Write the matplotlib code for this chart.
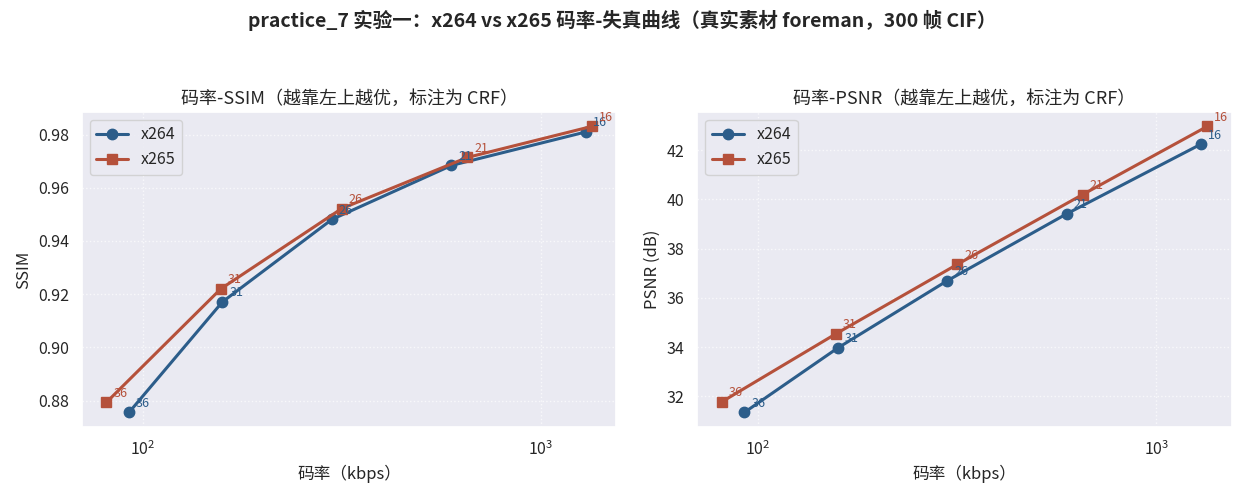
import numpy as np
import matplotlib
matplotlib.use("Agg")
import matplotlib.pyplot as plt
import seaborn as sns

sns.set_theme(style="darkgrid")
plt.rcParams['font.family'] = ['Noto Sans CJK SC', 'DejaVu Sans']
plt.rcParams['axes.unicode_minus'] = False

crf = [36, 31, 26, 21, 16]

x264_kbps = [92.3, 158.5, 298.5, 596.0, 1296.0]
x264_ssim = [0.8755, 0.9171, 0.9481, 0.9684, 0.9810]
x264_psnr = [31.35, 33.97, 36.70, 39.42, 42.25]

x265_kbps = [81.0, 157.0, 316.0, 653.0, 1343.0]
x265_ssim = [0.8793, 0.9220, 0.9522, 0.9714, 0.9831]
x265_psnr = [31.78, 34.55, 37.36, 40.20, 42.97]

c264 = '#2c5d8a'
c265 = '#b5513b'

fig, axes = plt.subplots(1, 2, figsize=(12.44, 4.98), dpi=100)

def draw(ax, y264, y265, title, ylabel):
    ax.plot(x264_kbps, y264, marker='o', color=c264, lw=2.2, ms=7.5, label='x264')
    ax.plot(x265_kbps, y265, marker='s', color=c265, lw=2.2, ms=7.5, label='x265')
    for x, y, c in zip(x264_kbps, y264, crf):
        ax.annotate(str(c), (x, y), xytext=(5, 4), textcoords='offset points',
                    fontsize=9, color=c264)
    for x, y, c in zip(x265_kbps, y265, crf):
        ax.annotate(str(c), (x, y), xytext=(5, 4), textcoords='offset points',
                    fontsize=9, color=c265)
    ax.set_xscale('log')
    ax.set_title(title, fontsize=13)
    ax.set_xlabel('码率（kbps）', fontsize=12)
    ax.set_ylabel(ylabel, fontsize=12)
    ax.tick_params(labelsize=11.5)
    ax.grid(True, linestyle=':', alpha=0.7)
    ax.legend(loc='upper left', fontsize=11.5)

draw(axes[0], x264_ssim, x265_ssim, '码率-SSIM（越靠左上越优，标注为 CRF）', 'SSIM')
draw(axes[1], x264_psnr, x265_psnr, '码率-PSNR（越靠左上越优，标注为 CRF）', 'PSNR (dB)')

fig.suptitle('practice_7 实验一：x264 vs x265 码率-失真曲线（真实素材 foreman，300 帧 CIF）',
             fontsize=14, fontweight='bold', y=0.98)
fig.subplots_adjust(left=0.066, right=0.99, top=0.775, bottom=0.143, wspace=0.152)
fig.savefig('out.png', dpi=100)
